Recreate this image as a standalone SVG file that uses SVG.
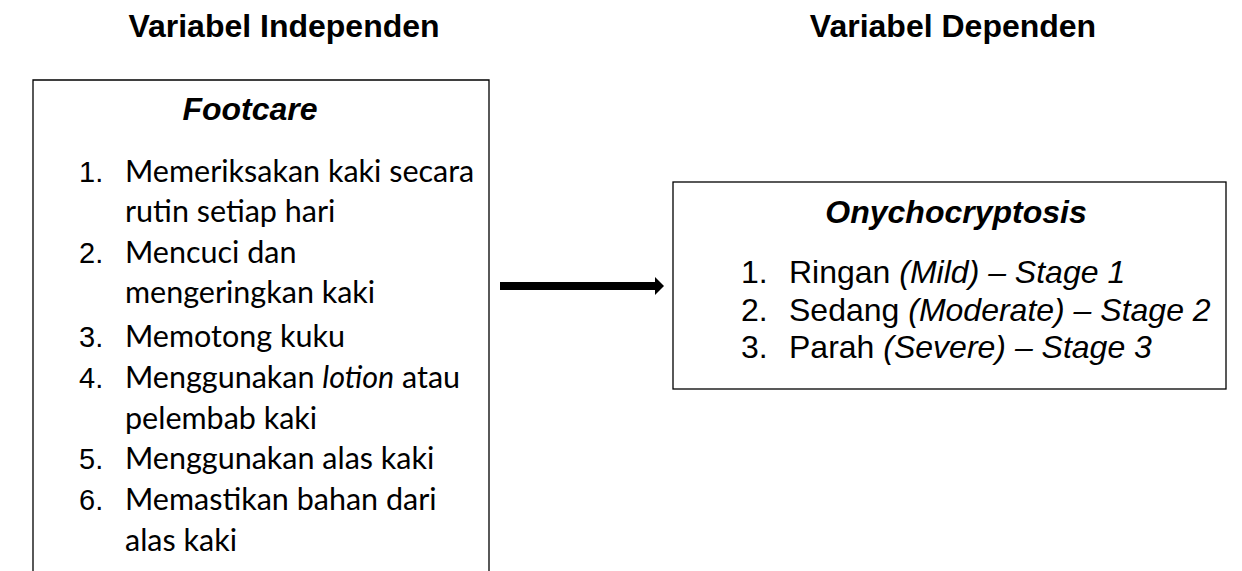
<svg xmlns="http://www.w3.org/2000/svg" width="1242" height="571" viewBox="0 0 1242 571">
<style>
.h{font-family:"Liberation Sans",Arial,sans-serif;font-weight:bold;font-size:32px;fill:#000}
.t{font-family:"Liberation Sans",Arial,sans-serif;font-weight:bold;font-style:italic;font-size:32px;fill:#000}
.n{font-family:"Liberation Sans",Arial,sans-serif;font-size:29px;fill:#000}
.c{font-family:Lato,"Liberation Sans",sans-serif;font-size:30.5px;fill:#000}
.a{font-family:"Liberation Sans",Arial,sans-serif;font-size:32px;fill:#000}
.i{font-style:italic}
.box{fill:#fff;stroke:#000;stroke-width:1.3}
</style>
<text class="h" x="284" y="37" text-anchor="middle">Variabel Independen</text>
<text class="h" x="953" y="37" text-anchor="middle">Variabel Dependen</text>
<g id="footcare">
<path class="box" d="M33,575 V80 H489 V575"/>
<text class="t" x="250" y="120" text-anchor="middle">Footcare</text>
<text class="n" x="79" y="182">1.</text><text class="c" x="125" y="182">Memeriksakan kaki secara</text>
<text class="c" x="125" y="222">rutin setiap hari</text>
<text class="n" x="79" y="263">2.</text><text class="c" x="125" y="263">Mencuci dan</text>
<text class="c" x="125" y="303">mengeringkan kaki</text>
<text class="n" x="79" y="347">3.</text><text class="c" x="125" y="347">Memotong kuku</text>
<text class="n" x="79" y="388">4.</text><text class="c" x="125" y="388">Menggunakan <tspan class="i">lotion</tspan> atau</text>
<text class="c" x="125" y="429">pelembab kaki</text>
<text class="n" x="79" y="469">5.</text><text class="c" x="125" y="469">Menggunakan alas kaki</text>
<text class="n" x="79" y="510">6.</text><text class="c" x="125" y="510">Memastikan bahan dari</text>
<text class="c" x="125" y="551">alas kaki</text>
</g>
<g id="onychocryptosis">
<rect class="box" x="673" y="182" width="553" height="207"/>
<text class="t" x="956" y="223" text-anchor="middle">Onychocryptosis</text>
<text class="a" x="741" y="283">1.</text><text class="a" x="789" y="283">Ringan <tspan class="i">(Mild) – Stage 1</tspan></text>
<text class="a" x="741" y="321">2.</text><text class="a" x="789" y="321">Sedang <tspan class="i">(Moderate) – Stage 2</tspan></text>
<text class="a" x="741" y="358">3.</text><text class="a" x="789" y="358">Parah <tspan class="i">(Severe) – Stage 3</tspan></text>
</g>
<g id="connectors">
<line x1="500" y1="286" x2="656" y2="286" stroke="#000" stroke-width="8"/>
<polygon points="655,277 664,286 655,295" fill="#000"/>
</g>
</svg>
